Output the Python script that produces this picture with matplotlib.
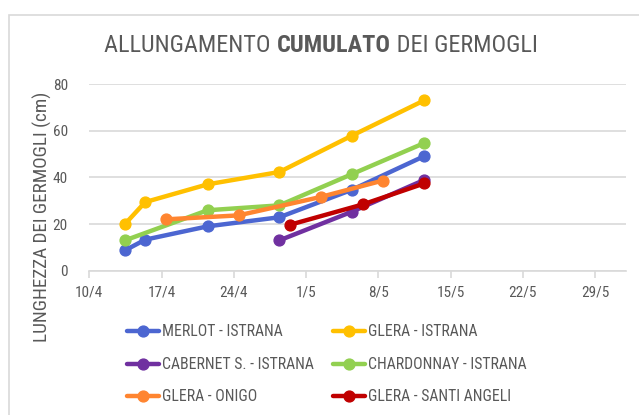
import os
import matplotlib
matplotlib.use("Agg")
import matplotlib.pyplot as plt
import matplotlib.patches as mpatches
from matplotlib import font_manager
from matplotlib.font_manager import FontProperties
import pandas as pd


def narrow_font(bold=False):
    # look for an installed condensed / narrow face, fall back to Roboto
    prefs = ["Roboto Condensed", "Liberation Sans Narrow", "Noto Sans", "DejaVu Sans", "Open Sans"]
    found = []
    for f in font_manager.fontManager.ttflist:
        base = os.path.basename(f.fname)
        if not ("Condensed" in base or "Narrow" in base or f.stretch in ("condensed", "semi-condensed")):
            continue
        if "Italic" in base or "Oblique" in base or f.style != "normal":
            continue
        if ("Semi" in base or "Extra" in base or "Ultra" in base) and "Condensed" in base:
            continue
        is_bold = f.weight in ("bold", 700) or "Bold" in base
        if is_bold != bold:
            continue
        if any(k in base for k in ("Light", "Thin", "Black", "Medium", "SemiBold")):
            continue
        rank = prefs.index(f.name) if f.name in prefs else len(prefs)
        found.append((rank, f.fname))
    if found:
        found.sort()
        return FontProperties(fname=found[0][1])
    return FontProperties(family="Roboto", weight="bold" if bold else "normal")


REG = narrow_font()
BOLD = narrow_font(bold=True)

# measurement dates (points sit around midday in the source chart)
dates_istrana = ["2023-04-13 11:00", "2023-04-15 10:00", "2023-04-21 11:00",
                 "2023-04-28 10:00", "2023-05-05 11:00", "2023-05-12 11:00"]
dates_istrana_late = ["2023-04-28 10:00", "2023-05-05 11:00", "2023-05-12 11:00"]
dates_chardonnay = ["2023-04-13 11:00", "2023-04-21 11:00", "2023-04-28 10:00",
                    "2023-05-05 11:00", "2023-05-12 11:00"]
dates_onigo = ["2023-04-17 10:00", "2023-04-24 11:00", "2023-05-02 10:00", "2023-05-08 10:00"]
dates_santi = ["2023-04-29 11:00", "2023-05-06 12:00", "2023-05-12 11:00"]

merlot = [8.7, 13.3, 19.0, 22.9, 34.7, 49.1]
glera_istrana = [20.0, 29.4, 37.0, 42.3, 57.9, 73.0]
cabernet = [13.0, 25.3, 38.9]
chardonnay = [13.0, 25.9, 28.0, 41.4, 54.7]
glera_onigo = [22.0, 23.7, 31.6, 38.6]
glera_santi = [19.7, 28.4, 37.4]

series = [
    ("MERLOT - ISTRANA", dates_istrana, merlot, "#4C66D1"),
    ("GLERA - ISTRANA", dates_istrana, glera_istrana, "#FFC000"),
    ("CABERNET S. - ISTRANA", dates_istrana_late, cabernet, "#7030A0"),
    ("CHARDONNAY - ISTRANA", dates_chardonnay, chardonnay, "#92D050"),
    ("GLERA - ONIGO", dates_onigo, glera_onigo, "#FF8530"),
    ("GLERA - SANTI ANGELI", dates_santi, glera_santi, "#C00000"),
]

tick_dates = pd.date_range("2023-04-10", "2023-05-29", freq="7D")
GREY = "#595959"

fig = plt.figure(figsize=(6.39, 4.15), dpi=100)
W, H = 639, 415
renderer = fig.canvas.get_renderer()


def fit_size(text, fp, target_px, start=12.0):
    t = fig.text(0, 0, text, fontproperties=fp, fontsize=start)
    w = t.get_window_extent(renderer).width
    t.remove()
    return start * target_px / w


# chart frame
fig.patches.append(mpatches.Rectangle((9 / W, -0.1), 1.0, 1 - 15 / H + 0.1,
                                      transform=fig.transFigure, fill=False,
                                      edgecolor="#d9d9d9", linewidth=1.2))

ax = fig.add_axes([89.3 / W, 1 - 270.7 / H, (626 - 89.3) / W, (270.7 - 84) / H])

handles = []
for label, d, vals, col in series:
    h, = ax.plot(pd.to_datetime(d), vals, '-o', color=col, lw=3.2, ms=7.8,
                 label=label, solid_capstyle='round', clip_on=False)
    handles.append(h)

tick_size = fit_size("10/4", REG, 28)
ax.set_ylim(0, 80)
ax.set_yticks([0, 20, 40, 60, 80])
ax.set_xlim(pd.Timestamp("2023-04-10"), pd.Timestamp("2023-06-01"))
ax.set_xticks(tick_dates)
ax.set_xticklabels([f"{t.day}/{t.month}" for t in tick_dates])
for lab in ax.get_xticklabels() + ax.get_yticklabels():
    lab.set_fontproperties(REG)
    lab.set_fontsize(tick_size)

ax.grid(axis='y', color="#d9d9d9", lw=1.2)
ax.set_axisbelow(True)
for s in ["top", "right", "left"]:
    ax.spines[s].set_visible(False)
ax.spines["bottom"].set_color("#d9d9d9")
ax.spines["bottom"].set_linewidth(1.2)
ax.tick_params(axis='y', length=0, pad=15.5, labelcolor=GREY)
ax.tick_params(axis='x', length=5, width=1.2, color="#d9d9d9", pad=6, labelcolor=GREY)

ylab = "LUNGHEZZA DEI GERMOGLI (cm)"
fig.text(42 / W, 1 - 217 / H, ylab, rotation=90, ha='center', va='center',
         fontproperties=REG, fontsize=fit_size(ylab, REG, 250), color=GREY)

# title with a bold middle word
title_parts = [("ALLUNGAMENTO ", REG), ("CUMULATO", BOLD), (" DEI GERMOGLI", REG)]
texts = []
for s, fp in title_parts:
    t = fig.text(0, 1 - 46 / H, s, fontproperties=fp, fontsize=18, color=GREY,
                 va='center', ha='left')
    texts.append(t)
total = sum(t.get_window_extent(renderer).width for t in texts)
scale = 432 / total
for t in texts:
    t.set_fontsize(18 * scale)
widths = [t.get_window_extent(renderer).width for t in texts]
x0 = (321 - sum(widths) / 2) / W
for t, wd in zip(texts, widths):
    t.set_x(x0)
    x0 += wd / W

leg_size = fit_size("MERLOT - ISTRANA", REG, 120)
leg_px = leg_size * 100 / 72
order = [0, 2, 4, 1, 3, 5]
leg = fig.legend([handles[i] for i in order], [series[i][0] for i in order],
                 ncol=2, loc='upper left', bbox_to_anchor=(127 / W, 1 - 324 / H),
                 frameon=False, prop=REG, fontsize=leg_size, labelcolor=GREY,
                 handlelength=36 / leg_px, handletextpad=4 / leg_px,
                 columnspacing=21 / leg_px, labelspacing=(35.5 - 1.0 * leg_px) / leg_px,
                 borderpad=0, borderaxespad=0)
for t in leg.get_texts():
    t.set_fontsize(leg_size)

fig.savefig("out.png", dpi=100)
